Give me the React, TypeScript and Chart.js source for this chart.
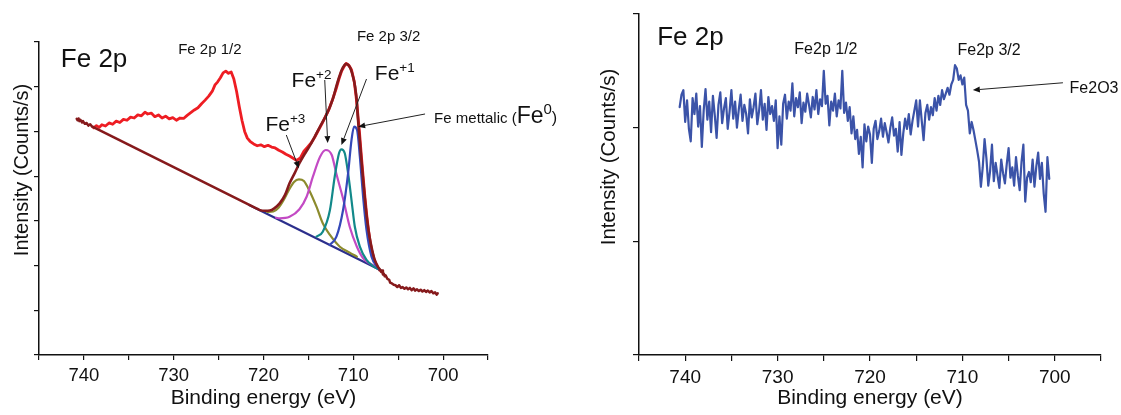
import React, { useEffect, useRef } from 'react';
import { Chart, registerables } from 'chart.js';

Chart.register(...registerables);

const FONT = '"Liberation Sans", Arial, Helvetica, sans-serif';
Chart.defaults.font.family = FONT;

// ---------------- shared axis data ----------------
const xTickLabels = [740, 730, 720, 710, 700];
const xMin = 695;
const xMax = 745;

// ---------------- left panel (fitted spectrum) ----------------
// raw spectrum (bright red)
const redEnergy = [738.9, 738.6, 738.3, 738.0, 737.6, 737.2, 736.8, 736.4, 736.0, 735.6, 735.2, 734.8, 734.4, 734.0, 733.6, 733.2, 732.9, 732.5, 732.1, 731.7, 731.3, 730.9, 730.5, 730.1, 729.7, 729.3, 728.9, 728.5, 728.1, 727.7, 727.3, 726.9, 726.5, 726.1, 725.7, 725.4, 725.1, 724.8, 724.5, 724.2, 723.9, 723.6, 723.3, 723.0, 722.7, 722.4, 722.1, 721.8, 721.5, 721.1, 720.7, 720.3, 719.9, 719.5, 719.1, 718.7, 718.3, 717.9, 717.5, 717.1, 716.7, 716.3, 715.9, 715.5, 715.1, 714.7, 714.3, 713.9, 713.5, 713.1, 712.7, 712.3, 711.9, 711.6, 711.3, 711.0, 710.8, 710.5, 710.2, 709.9, 709.7, 709.5, 709.3, 709.1, 708.9, 708.7, 708.5, 708.3, 708.1, 707.9, 707.7, 707.5, 707.3, 707.1];
const redIntensity = [5080, 5130, 5090, 5150, 5120, 5190, 5160, 5230, 5200, 5270, 5250, 5320, 5300, 5370, 5350, 5430, 5390, 5410, 5330, 5370, 5300, 5340, 5280, 5310, 5250, 5300, 5290, 5360, 5420, 5480, 5530, 5620, 5700, 5790, 5900, 6040, 6110, 6200, 6310, 6350, 6300, 6330, 6170, 5900, 5560, 5250, 5000, 4850, 4780, 4720, 4680, 4700, 4660, 4690, 4650, 4630, 4580, 4540, 4490, 4450, 4400, 4350, 4410, 4560, 4650, 4740, 4870, 5020, 5170, 5330, 5500, 5720, 5960, 6170, 6350, 6460, 6520, 6480, 6380, 6120, 5800, 5400, 4950, 4450, 3980, 3520, 3120, 2780, 2500, 2300, 2150, 2040, 1970, 1900];

// raw data outside the fit window (dark red)
const darkStartEnergy = [740.8, 740.7, 740.6, 740.5, 740.4, 740.2, 740.1, 739.9, 739.7, 739.5, 739.3, 739.1, 739.0];
const darkStartIntensity = [5280, 5250, 5290, 5230, 5260, 5200, 5230, 5170, 5190, 5130, 5160, 5110, 5100];
const darkTailEnergy = [707.0, 706.9, 706.8, 706.7, 706.6, 706.5, 706.4, 706.2, 706.0, 705.9, 705.7, 705.5, 705.3, 705.1, 704.9, 704.7, 704.5, 704.3, 704.1, 703.9, 703.7, 703.5, 703.3, 703.1, 702.9, 702.7, 702.5, 702.3, 702.1, 701.9, 701.7, 701.5, 701.3, 701.1, 700.9, 700.7, 700.6];
const darkTailIntensity = [1900, 1860, 1890, 1800, 1820, 1760, 1780, 1700, 1680, 1620, 1600, 1570, 1560, 1520, 1560, 1500, 1520, 1480, 1510, 1470, 1500, 1450, 1490, 1440, 1470, 1430, 1460, 1420, 1450, 1410, 1440, 1400, 1430, 1380, 1400, 1350, 1380];

// fit envelope (dark red)
const envelopeEnergy = [739.0, 720.8, 720.4, 719.8, 719.3, 718.8, 718.2, 717.6, 717.1, 716.5, 716.0, 715.4, 714.9, 714.3, 713.7, 713.1, 712.6, 712.2, 711.9, 711.6, 711.3, 711.0, 710.8, 710.5, 710.3, 710.0, 709.8, 709.6, 709.5, 709.3, 709.1, 708.9, 708.7, 708.5, 708.2, 707.9, 707.6, 707.3, 707.0];
const envelopeIntensity = [5100, 3280, 3240, 3225, 3230, 3280, 3390, 3580, 3840, 4080, 4290, 4500, 4660, 4880, 5110, 5330, 5550, 5780, 6000, 6200, 6370, 6480, 6510, 6470, 6400, 6200, 6000, 5650, 5330, 4850, 4360, 3900, 3470, 3080, 2650, 2350, 2120, 1990, 1900];

// Shirley-type background (navy)
const backgroundEnergy = [721.6, 707.0];
const backgroundIntensity = [3357, 1900];

// components
const fe3Energy = [719.6, 718.9, 718.3, 717.8, 717.2, 716.6, 716.06, 715.5, 714.9, 714.1, 713.4, 712.6, 711.5, 710.4, 709.6];
const fe3Intensity = [3200, 3210, 3300, 3450, 3680, 3870, 3929, 3890, 3680, 3317, 2945, 2684, 2422, 2290, 2200];
const fe2Energy = [718.6, 718.2, 717.1, 716.0, 715.2, 714.5, 713.7, 713.07, 712.4, 711.9, 711.1, 710.4, 709.6, 708.9, 708.2, 707.5];
const fe2Intensity = [3070, 3055, 3090, 3260, 3540, 3987, 4435, 4585, 4473, 4064, 3466, 2869, 2422, 2163, 2051, 1980];
const fe1Energy = [714.1, 713.4, 712.6, 712.07, 711.59, 711.32, 710.95, 710.58, 710.2, 709.83, 709.27, 708.53, 707.8, 707.2];
const fe1Intensity = [2646, 2757, 3243, 3987, 4511, 4600, 4511, 4064, 3466, 2869, 2422, 2125, 1990, 1920];
const fe0Energy = [712.63, 711.88, 711.14, 710.58, 710.2, 709.91, 709.58, 709.27, 708.91, 708.53, 707.97, 707.23];
const fe0Intensity = [2460, 2646, 3243, 4064, 4808, 5106, 5032, 4435, 3540, 2796, 2198, 1939];

// ---------------- right panel (raw spectrum) ----------------
const rightStartEnergy = 740.6;
const rightEnergyStep = 0.2;
const rightIntensity = [
  2180, 2290, 2330, 2050, 2240, 1990, 1880, 2260, 2120, 2300,
  2010, 2190, 1830, 2150, 2340, 2070, 2230, 1960, 2280, 2110,
  1910, 2200, 2310, 2040, 2170, 2260, 1990, 2140, 2330, 2080,
  2230, 2000, 2160, 2290, 2060, 2200, 2120, 1950, 2250, 2090,
  2180, 2300, 2030, 2150, 2330, 2070, 2210, 1980, 2270, 2120,
  2190, 2060, 2240, 1820, 2100, 1850, 2210, 2290, 2080, 2230,
  2150, 2390, 2100, 2260, 2180, 2310, 2040, 2220, 2140, 2300,
  2200, 2090, 2270, 2160, 2330, 2120, 2250, 2190, 2500, 2210,
  2280, 2020, 2230, 2150, 2300, 2100, 2240, 2170, 2500, 2130,
  2220, 2060, 2180, 1950, 2100, 1900, 1980, 1770, 1920, 1650,
  2030, 1880, 2010, 1940, 1690, 1990, 2060, 1900, 1970, 2080,
  1920, 2040, 1960, 1870, 2000, 2090, 1930, 1990, 1790, 2050,
  1760, 1950, 2080, 1990, 2120, 1940, 2060, 2150, 2240, 2010,
  2240, 2060, 1890, 2130, 2200, 2070, 2180, 2110, 2260, 2150,
  2280, 2200, 2330, 2250, 2300, 2350, 2290, 2380, 2420, 2550,
  2520, 2420, 2460, 2380, 2440, 2200, 2150, 1950, 2050, 1980,
  1890, 1800, 1700, 1480, 1650, 1900, 1730, 1490, 1620, 1850,
  1530, 1690, 1580, 1470, 1720, 1600, 1510, 1680, 1820, 1560,
  1650, 1490, 1740, 1580, 1450, 1700, 1850, 1350, 1560, 1610,
  1520, 1720, 1480, 1660, 1780, 1550, 1690, 1420, 1260, 1740, 1550,
];
const rightEnergy = rightIntensity.map((_, i) => +(rightStartEnergy - i * rightEnergyStep).toFixed(1));

// ---------------- helpers ----------------
const pts = (xs: number[], ys: number[]) => xs.map((x, i) => ({ x, y: ys[i] }));

type Seg = { text: string; size: number; dy?: number };
type Label = { x: number; y: number; parts: Seg[] };
type Arrow = { x1: number; y1: number; x2: number; y2: number };

function annotations(id: string, labels: Label[], arrows: Arrow[], yTitle: { x: number; y: number; size: number }) {
  return {
    id,
    afterDraw(chart: any) {
      const { ctx } = chart;
      const xs = chart.scales.x;
      const ys = chart.scales.y;
      ctx.save();
      ctx.fillStyle = '#111';
      ctx.strokeStyle = '#222';
      for (const a of arrows) {
        const x1 = xs.getPixelForValue(a.x1), y1 = ys.getPixelForValue(a.y1);
        const x2 = xs.getPixelForValue(a.x2), y2 = ys.getPixelForValue(a.y2);
        const ang = Math.atan2(y2 - y1, x2 - x1);
        const hl = 7, hw = 3;
        const bx = x2 - hl * Math.cos(ang), by = y2 - hl * Math.sin(ang);
        ctx.lineWidth = 1;
        ctx.beginPath();
        ctx.moveTo(x1, y1);
        ctx.lineTo(bx, by);
        ctx.stroke();
        ctx.beginPath();
        ctx.moveTo(x2, y2);
        ctx.lineTo(bx + hw * Math.sin(ang), by - hw * Math.cos(ang));
        ctx.lineTo(bx - hw * Math.sin(ang), by + hw * Math.cos(ang));
        ctx.closePath();
        ctx.fill();
      }
      ctx.textAlign = 'left';
      ctx.textBaseline = 'alphabetic';
      for (const l of labels) {
        let x = xs.getPixelForValue(l.x);
        const y = ys.getPixelForValue(l.y);
        for (const p of l.parts) {
          ctx.font = `${p.size}px ${FONT}`;
          ctx.fillText(p.text, x, y + (p.dy || 0));
          x += ctx.measureText(p.text).width;
        }
      }
      ctx.translate(yTitle.x, yTitle.y);
      ctx.rotate(-Math.PI / 2);
      ctx.textAlign = 'center';
      ctx.textBaseline = 'middle';
      ctx.font = `${yTitle.size}px ${FONT}`;
      ctx.fillText('Intensity (Counts/s)', 0, 0);
      ctx.restore();
    },
  };
}

type PanelLayout = {
  padTop: number; padRight: number; yAxisWidth: number; xAxisHeight: number;
  yMax: number; tickSize: number; titleSize: number; tickLen: number;
};

function makeOptions(p: PanelLayout): any {
  return {
    responsive: false,
    animation: false,
    devicePixelRatio: 1,
    layout: { padding: { left: 0, right: p.padRight, top: p.padTop, bottom: 0 } },
    plugins: { legend: { display: false }, tooltip: { enabled: false } },
    elements: { point: { radius: 0 }, line: { borderCapStyle: 'round', borderJoinStyle: 'round' } },
    scales: {
      x: {
        type: 'linear',
        min: xMin,
        max: xMax,
        reverse: true,
        afterFit: (s: any) => { s.height = p.xAxisHeight; },
        ticks: {
          stepSize: 5,
          autoSkip: false,
          maxRotation: 0,
          padding: 5,
          color: '#111',
          font: { size: p.tickSize, family: FONT },
          callback: (v: number) => (xTickLabels.includes(Number(v)) ? String(v) : ''),
        },
        grid: { drawOnChartArea: false, drawTicks: true, tickLength: p.tickLen, color: '#111', lineWidth: 1.2 },
        border: { display: true, color: '#111', width: 1.5 },
        title: {
          display: true,
          text: 'Binding energy (eV)',
          color: '#111',
          font: { size: p.titleSize, family: FONT },
          padding: { top: 0, bottom: 4 },
        },
      },
      y: {
        type: 'linear',
        min: 0,
        max: p.yMax,
        afterFit: (s: any) => { s.width = p.yAxisWidth; },
        ticks: { stepSize: 1000, padding: 0, callback: () => '' },
        grid: { drawOnChartArea: false, drawTicks: true, tickLength: p.tickLen, color: '#111', lineWidth: 1.2 },
        border: { display: true, color: '#111', width: 1.5 },
      },
    },
  };
}

const line = (data: any[], color: string, width: number, smooth: boolean) => ({
  data,
  borderColor: color,
  backgroundColor: color,
  borderWidth: width,
  pointRadius: 0,
  fill: false,
  tension: 0,
  cubicInterpolationMode: smooth ? 'monotone' : 'default',
});

function leftConfig(): any {
  const labels: Label[] = [
    { x: 742.57, y: 6448, parts: [{ text: 'Fe 2p', size: 26 }] },
    { x: 729.5, y: 6730, parts: [{ text: 'Fe 2p 1/2', size: 15 }] },
    { x: 709.6, y: 7020, parts: [{ text: 'Fe 2p 3/2', size: 15 }] },
    { x: 719.78, y: 5010, parts: [{ text: 'Fe', size: 21 }, { text: '+3', size: 13.5, dy: -8 }] },
    { x: 716.87, y: 6000, parts: [{ text: 'Fe', size: 21 }, { text: '+2', size: 13.5, dy: -8 }] },
    { x: 707.6, y: 6160, parts: [{ text: 'Fe', size: 21 }, { text: '+1', size: 13.5, dy: -8 }] },
    {
      x: 701.0, y: 5190,
      parts: [{ text: 'Fe mettalic (', size: 15 }, { text: 'Fe', size: 23 }, { text: '0', size: 15, dy: -9 }, { text: ')', size: 16 }],
    },
  ];
  const arrows: Arrow[] = [
    { x1: 717.46, y1: 4920, x2: 716.06, y2: 4175 },
    { x1: 713.18, y1: 6150, x2: 712.85, y2: 4741 },
    { x1: 708.53, y1: 6172, x2: 711.32, y2: 4696 },
    { x1: 702.01, y1: 5390, x2: 709.46, y2: 5106 },
  ];
  return {
    type: 'line',
    data: {
      datasets: [
        line(pts(envelopeEnergy, envelopeIntensity), '#861a1c', 2.6, true),
        line(pts(darkStartEnergy, darkStartIntensity), '#861a1c', 2.5, false),
        line(pts(darkTailEnergy, darkTailIntensity), '#861a1c', 2.5, false),
        line(pts(fe0Energy, fe0Intensity), '#3448b8', 2.2, true),
        line(pts(fe1Energy, fe1Intensity), '#12898a', 2.2, true),
        line(pts(fe2Energy, fe2Intensity), '#c34ac4', 2.2, true),
        line(pts(fe3Energy, fe3Intensity), '#8c8b2d', 2.2, true),
        line(pts(backgroundEnergy, backgroundIntensity), '#2c2f8c', 2.2, false),
        line(pts(redEnergy, redIntensity), '#ee1d23', 2.8, false),
      ],
    },
    options: makeOptions({ padTop: 42, padRight: 72, yAxisWidth: 39, xAxisHeight: 60, yMax: 7000, tickSize: 18.5, titleSize: 21, tickLen: 5 }),
    plugins: [annotations('leftNotes', labels, arrows, { x: 22, y: 170, size: 20 })],
  };
}

function rightConfig(): any {
  const labels: Label[] = [
    { x: 743.03, y: 2727, parts: [{ text: 'Fe 2p', size: 26 }] },
    { x: 728.19, y: 2648, parts: [{ text: 'Fe2p 1/2', size: 16 }] },
    { x: 710.53, y: 2639, parts: [{ text: 'Fe2p 3/2', size: 16 }] },
    { x: 698.4, y: 2305, parts: [{ text: 'Fe2O3', size: 16 }] },
  ];
  const arrows: Arrow[] = [{ x1: 699.12, y1: 2395, x2: 708.87, y2: 2331 }];
  return {
    type: 'line',
    data: {
      datasets: [line(pts(rightEnergy, rightIntensity), '#3b53a8', 2.2, false)],
    },
    options: makeOptions({ padTop: 14, padRight: 20, yAxisWidth: 79, xAxisHeight: 60, yMax: 3000, tickSize: 19, titleSize: 21, tickLen: 6 }),
    plugins: [annotations('rightNotes', labels, arrows, { x: 49, y: 157, size: 20.5 })],
  };
}

function ChartCanvas({ left, width, height, build }: { left: number; width: number; height: number; build: () => any }) {
  const ref = useRef<HTMLCanvasElement>(null);
  useEffect(() => {
    const chart = new Chart(ref.current as HTMLCanvasElement, build());
    return () => chart.destroy();
  }, []);
  return (
    <canvas
      ref={ref}
      width={width}
      height={height}
      style={{ position: 'absolute', left, top: 0, width, height, display: 'block' }}
    />
  );
}

export default function App() {
  return (
    <div style={{ position: 'fixed', left: 0, top: 0, width: 1121, height: 415, background: '#fff', overflow: 'hidden' }}>
      <ChartCanvas left={0} width={560} height={415} build={leftConfig} />
      <ChartCanvas left={560} width={561} height={415} build={rightConfig} />
    </div>
  );
}
